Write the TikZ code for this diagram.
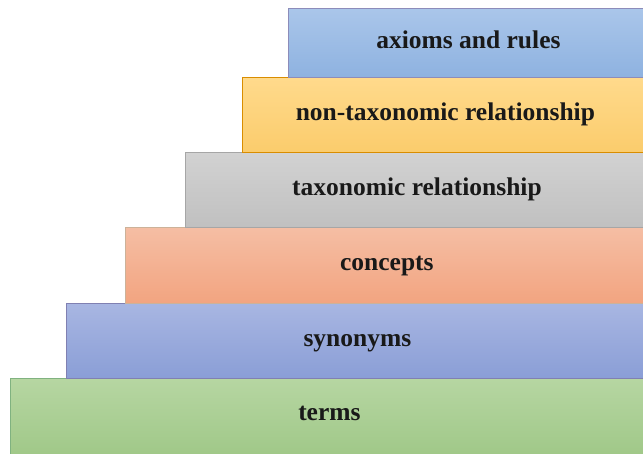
\documentclass[tikz,border=0pt]{standalone}
\usepackage{fontspec}
\setmainfont{Liberation Serif}
\begin{document}
\begin{tikzpicture}[x=1pt,y=-1pt,
  stepbox/.style={draw=#1, line width=0.8pt, anchor=north west, inner sep=0pt},
  stepbox/.default=gray,
  steplabel/.style={font=\bfseries\fontsize{25.5}{28}\selectfont, text=black!90,
    inner sep=0pt, text height=17pt, text depth=6pt}]
\useasboundingbox (0,0) rectangle (643,453);
\clip (0,0) rectangle (643,453);
% layers, bottom to top; each starts further right
\node[stepbox={green!40!black!50}, top color={rgb,255:red,182;green,214;blue,162}, bottom color={rgb,255:red,160;green,200;blue,136},
  minimum width=638pt, minimum height=77pt] (terms) at (10,378) {};
\node[stepbox={blue!40!black!50}, top color={rgb,255:red,168;green,182;blue,226}, bottom color={rgb,255:red,138;green,158;blue,214},
  minimum width=582pt, minimum height=75pt] (synonyms) at (66,303) {};
\node[stepbox={orange!50!black!40}, top color={rgb,255:red,245;green,190;blue,164}, bottom color={rgb,255:red,242;green,164;blue,128},
  minimum width=523pt, minimum height=76pt] (concepts) at (125,227) {};
\node[stepbox={black!35}, top color={rgb,255:red,210;green,210;blue,210}, bottom color={rgb,255:red,192;green,192;blue,192},
  minimum width=463pt, minimum height=75pt] (taxonomic) at (185,152) {};
\node[stepbox={orange!70!yellow!85!black}, top color={rgb,255:red,255;green,218;blue,140}, bottom color={rgb,255:red,251;green,204;blue,108},
  minimum width=406pt, minimum height=75pt] (nontax) at (242,77) {};
\node[stepbox={blue!40!black!45}, top color={rgb,255:red,170;green,198;blue,234}, bottom color={rgb,255:red,142;green,178;blue,224},
  minimum width=360pt, minimum height=69pt] (axioms) at (288,8) {};
% labels, centred in each layer (the bottom one sits a little higher)
\foreach \layer/\txt/\dy in {terms/terms/2, synonyms/synonyms/0, concepts/concepts/0,
    taxonomic/taxonomic relationship/0, nontax/non-taxonomic relationship/0, axioms/axioms and rules/0}
  \node[steplabel] (\layer-label) at ([yshift=\dy pt]\layer.center) {\txt};
\end{tikzpicture}
\end{document}
